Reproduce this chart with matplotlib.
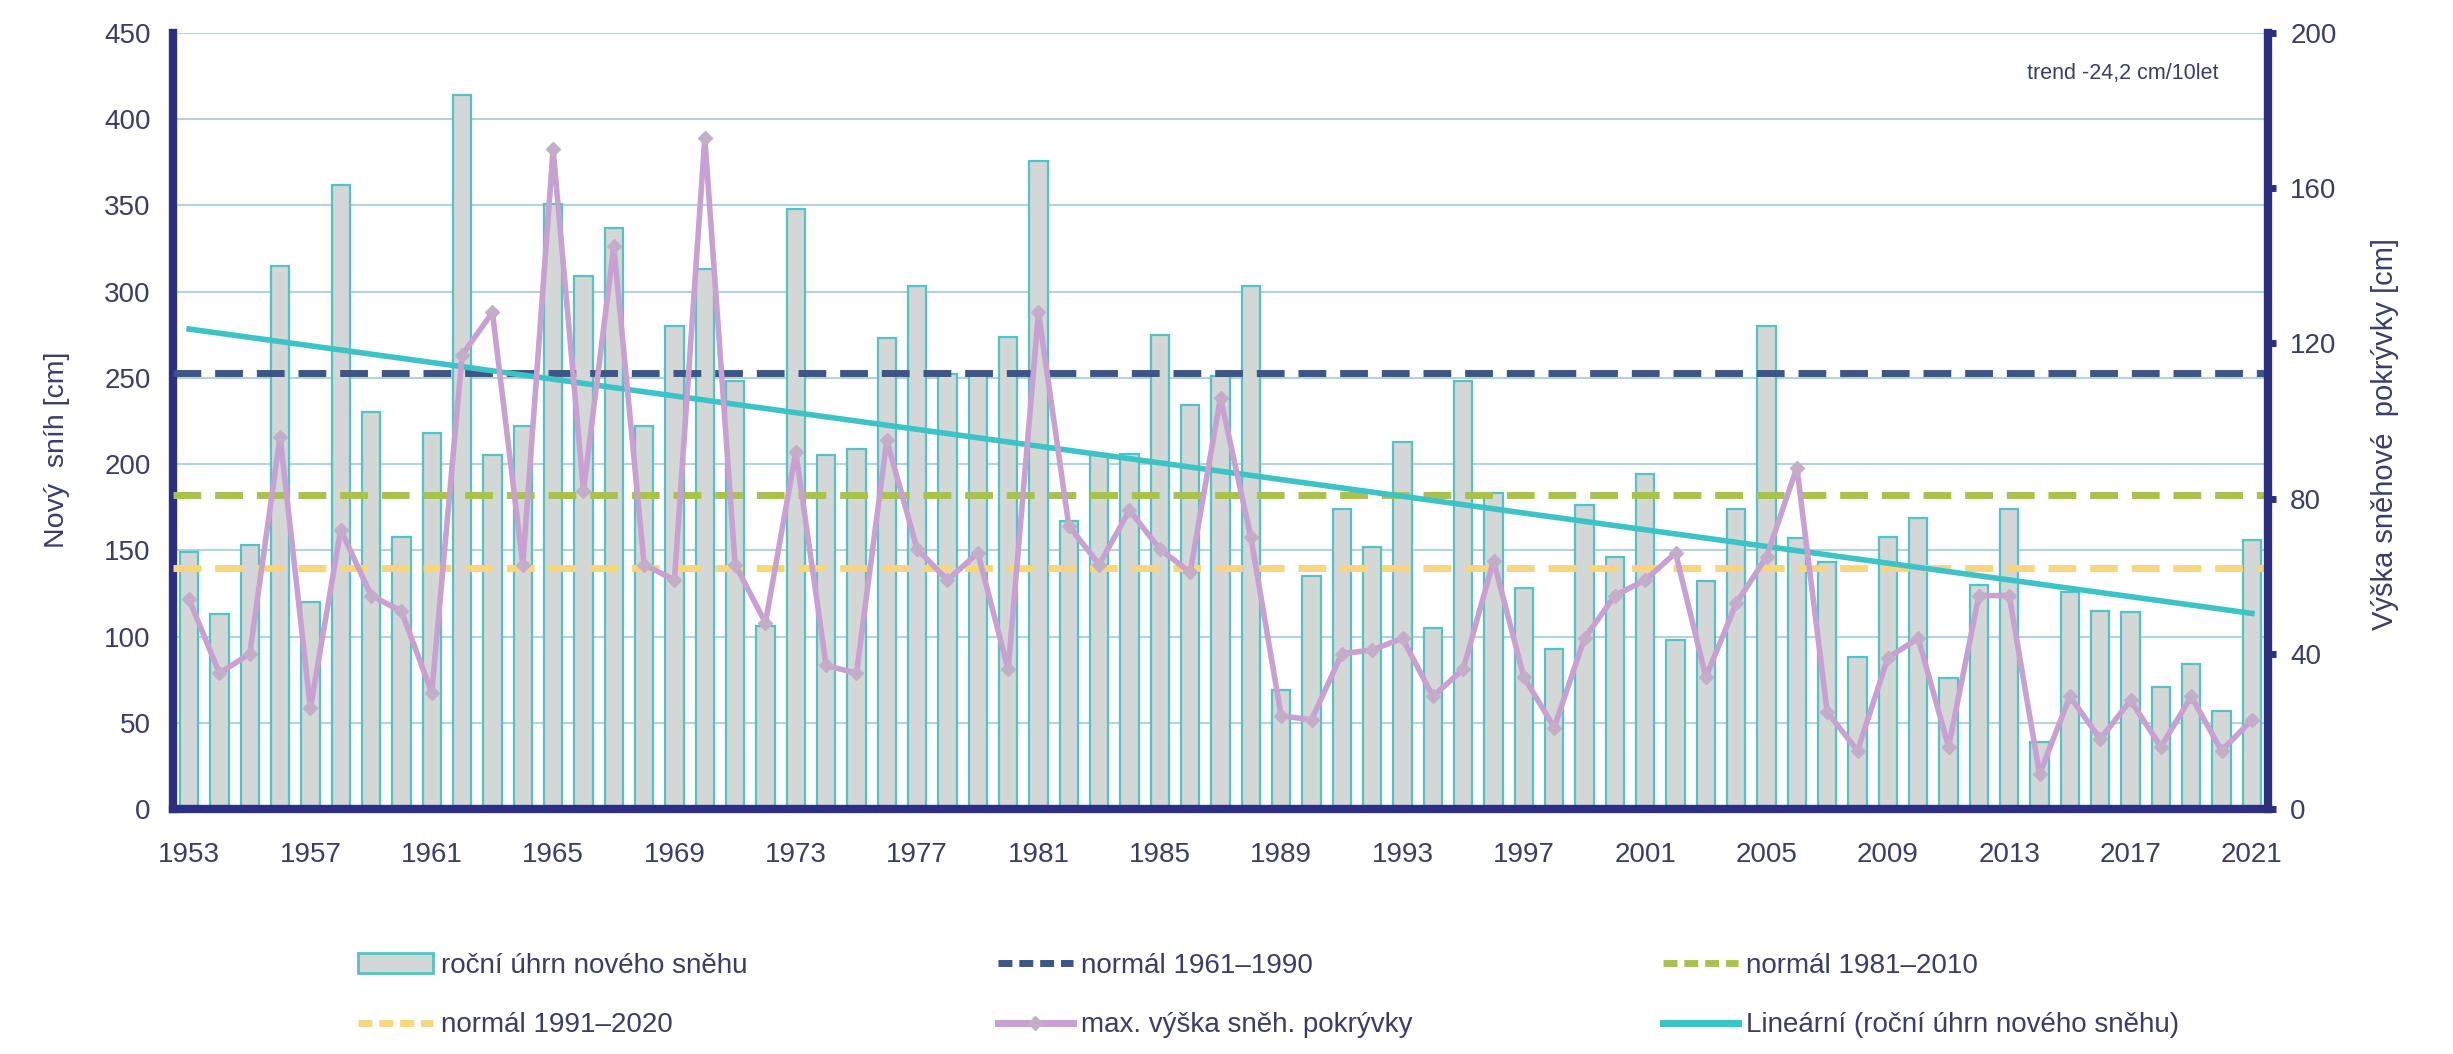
import numpy as np
import matplotlib
matplotlib.use("Agg")
from matplotlib import pyplot as plt
from matplotlib.patches import Patch
from matplotlib.lines import Line2D

plt.rcParams['font.family'] = ['Liberation Sans', 'DejaVu Sans']

# roky a data
years = np.arange(1953, 2022)
# roční úhrn nového sněhu [cm]
snow_new = [149, 113, 153, 315, 120, 362, 230, 158, 218, 414,
            205, 222, 351, 309, 337, 222, 280, 313, 248, 106,
            348, 205, 209, 273, 303, 252, 252, 274, 376, 167,
            206, 206, 275, 234, 251, 303, 69, 135, 174, 152,
            213, 105, 248, 183, 128, 93, 176, 146, 194, 98,
            132, 174, 280, 157, 143, 88, 158, 169, 76, 130,
            174, 39, 126, 115, 114, 71, 84, 57, 156]
# max. výška sněhové pokrývky [cm]
snow_depth = [54, 35, 40, 96, 26, 72, 55, 51, 30, 117,
              128, 63, 170, 82, 145, 63, 59, 173, 63, 48,
              92, 37, 35, 95, 67, 59, 66, 36, 128, 73,
              63, 77, 67, 61, 106, 70, 24, 23, 40, 41,
              44, 29, 36, 64, 34, 21, 44, 55, 59, 66,
              34, 53, 65, 88, 25, 15, 39, 44, 16, 55,
              55, 9, 29, 18, 28, 16, 29, 15, 23]
normal_6190 = 253
normal_8110 = 182
normal_9120 = 140
trend_text = "trend -24,2 cm/10let"

navy = "#2c2f7f"
txt = "#3a3c6a"

fig = plt.figure(figsize=(24.53, 10.54), dpi=100)
ax = fig.add_axes([173/2453, 1-809/1054, 2095/2453, 776/1054])
ax2 = ax.twinx()

ax.set_axisbelow(True)
ax.grid(axis='y', color='#b3d3da', lw=1.5)
bars = ax.bar(years, snow_new, width=0.6, color='#d3d7d6', edgecolor='#55c2c6', lw=1.6, zorder=2)

ax.axhline(normal_6190, color='#3d5687', ls=(0, (4, 2)), lw=5, zorder=3)
ax.axhline(normal_8110, color='#a9c24f', ls=(0, (4, 2)), lw=5, zorder=3)
ax.axhline(normal_9120, color='#f6d77c', ls=(0, (4, 2)), lw=5, zorder=3)

# lineární trend ročního úhrnu
k, q = np.polyfit(years, snow_new, 1)
ax.plot(years, k*years + q, color='#3cc3c6', lw=4, zorder=4)

ax2.plot(years, snow_depth, color='#c8a0d2', lw=4, marker='D', ms=7,
         mfc='#c3adc9', mec='#c3adc9', zorder=5)

ax.set_xlim(1952.47, 2021.53)
ax.set_ylim(0, 450)
ax2.set_ylim(0, 200)
ax.set_yticks(np.arange(0, 451, 50))
ax2.set_yticks(np.arange(0, 201, 40))
ax.set_xticks(np.arange(1953, 2022, 4))

for a in (ax, ax2):
    a.spines['top'].set_visible(False)
    for s in ('left', 'right', 'bottom'):
        a.spines[s].set_color(navy)
        a.spines[s].set_linewidth(6)
ax.spines['right'].set_visible(False)
ax2.spines['left'].set_visible(False)
ax2.spines['bottom'].set_visible(False)

ax.tick_params(axis='y', length=0, pad=16, labelsize=20, labelcolor=txt)
ax.tick_params(axis='x', length=0, pad=24, labelsize=20, labelcolor=txt)
ax2.tick_params(axis='y', length=6, width=5, color=navy, pad=10, labelsize=20, labelcolor=txt)

ax.set_ylabel("Nový  sníh [cm]", fontsize=20.5, color=txt)
ax.yaxis.set_label_coords(-0.049, 0.4626)
ax2.set_ylabel("Výška sněhové  pokrývky [cm]", fontsize=21, color=txt, rotation=90)
ax2.yaxis.set_label_coords(1.049, 0.483)

ax.text(0.9766, 0.948, trend_text, transform=ax.transAxes, ha='right', va='center',
        fontsize=15.5, color=txt)

h_bar = Patch(facecolor='#d3d7d6', edgecolor='#55c2c6', lw=2)
h_61 = Line2D([], [], color='#3d5687', ls=(0, (2, 1)), lw=5)
h_81 = Line2D([], [], color='#a9c24f', ls=(0, (2, 1)), lw=5)
h_91 = Line2D([], [], color='#f6d77c', ls=(0, (2, 1)), lw=5)
h_max = Line2D([], [], color='#c8a0d2', lw=5, marker='D', ms=7, mfc='#c3adc9', mec='#c3adc9')
h_lin = Line2D([], [], color='#3cc3c6', lw=5)
handles = [h_bar, h_91, h_61, h_max, h_81, h_lin]
labels = ["roční úhrn nového sněhu", "normál 1991–2020",
          "normál 1961–1990", "max. výška sněh. pokrývky",
          "normál 1981–2010", "Lineární (roční úhrn nového sněhu)"]
leg = fig.legend(handles, labels, ncol=3, loc='upper left', bbox_to_anchor=(344/2453, 1-939/1054),
                 frameon=False, borderpad=0, handlelength=2.7, handletextpad=0.3,
                 columnspacing=9.0, labelspacing=1.2, labelcolor=txt, fontsize=20)

fig.savefig("out.png", dpi=100)
